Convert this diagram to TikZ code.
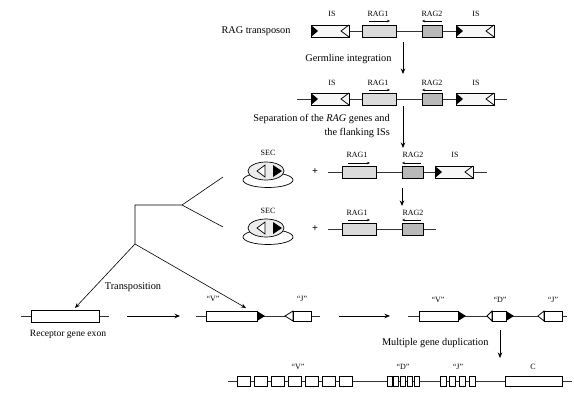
\documentclass[tikz,border=0pt]{standalone}
\usepackage{fontspec}
\setmainfont{Liberation Serif}
\usetikzlibrary{arrows.meta}

\tikzset{
  genebox/.style={draw=black, line width=0.75pt},
  dnaline/.style={draw=black!80, line width=0.6pt},
  lbl/.style={font=\fontsize{8}{9}\selectfont},
  txt/.style={font=\fontsize{10.3}{12}\selectfont},
  flow/.style={line width=0.8pt, -{Stealth[length=5.5pt,width=4.5pt]}},
  orient/.style={line width=0.6pt, -{Stealth[length=3pt,width=2.5pt]}}
}

% IS element: left x, centre y
\newcommand{\isElem}[2]{%
  \draw[genebox, fill=gray!6] (#1,#2-6) rectangle (#1+38,#2+6);
  \fill (#1,#2-6) -- (#1+7,#2) -- (#1,#2+6) -- cycle;
  \draw[genebox] (#1+38,#2-6) -- (#1+30,#2) -- (#1+38,#2+6);
}
% RAG gene box: x1, y, x2, fill
\newcommand{\ragBox}[4]{%
  \draw[genebox, fill=#4] (#1,#2-6) rectangle (#3,#2+6);
}
% SEC: centre x, centre y
\newcommand{\secRing}[2]{%
  \draw[line width=0.7pt, fill=white] (#1+2,#2+9) ellipse [x radius=25, y radius=7.5];
  \draw[line width=0.7pt, fill=gray!15] (#1,#2) ellipse [x radius=18, y radius=9];
  \draw[line width=0.7pt, fill=white] (#1-1,#2-6) -- (#1-9,#2) -- (#1-1,#2+6) -- cycle;
  \fill (#1+7,#2-6) -- (#1+16,#2) -- (#1+7,#2+6) -- cycle;
}
% "V"-like segment: box x1 to x2, black tip after it, y
\newcommand{\vSeg}[3]{%
  \draw[genebox, fill=white] (#1,#3-5) rectangle (#2,#3+5);
  \fill (#2,#3-5) -- (#2+8,#3) -- (#2,#3+5) -- cycle;
}
% "J"-like segment: open tip at x1, box x2 to x3, y
\newcommand{\jSeg}[4]{%
  \draw[genebox, fill=white] (#2,#4-5) -- (#1,#4) -- (#2,#4+5) -- cycle;
  \draw[genebox, fill=white] (#2,#4-5) rectangle (#3,#4+5);
}

\begin{document}
\begin{tikzpicture}[x=1pt, y=-1pt]
    \useasboundingbox (0,0) rectangle (574,394);

    % Top row: the transposon.
        \node[txt, anchor=east] (tlabel) at (294,31) {RAG transposon};
        \draw[dnaline] (311,31) -- (494,31);
        \isElem{311}{31}
        \ragBox{362}{31}{396}{gray!28}
        \ragBox{422}{31}{442}{gray!55}
        \isElem{456}{31}
        \node[lbl] (is1a) at (332,14) {IS};
        \node[lbl] (rag1a) at (378,14) {RAG1};
        \node[lbl] (rag2a) at (432,14) {RAG2};
        \node[lbl] (is2a) at (476,14) {IS};
        \draw[orient] (369,21) -- (390,21);
        \draw[orient] (442,21) -- (422,21);

    % Germline integration.
        \coordinate (g1) at (403,42);
        \coordinate (g2) at (403,74);
        \draw[flow] (g1) -- (g2);
        \node[txt, anchor=east] (germ) at (395,59) {Germline integration};

    % Second row: integrated.
        \draw[dnaline] (297,99) -- (507,99);
        \isElem{311}{99}
        \ragBox{362}{99}{396}{gray!28}
        \ragBox{422}{99}{442}{gray!55}
        \isElem{456}{99}
        \node[lbl] (is1b) at (332,83) {IS};
        \node[lbl] (rag1b) at (378,83) {RAG1};
        \node[lbl] (rag2b) at (432,83) {RAG2};
        \node[lbl] (is2b) at (476,83) {IS};
        \draw[orient] (369,90) -- (390,90);
        \draw[orient] (442,90) -- (422,90);

    % Separation step.
        \coordinate (s1) at (403,106);
        \coordinate (s2) at (403,148);
        \draw[flow] (s1) -- (s2);
        \node[txt, anchor=east, align=right, inner sep=0pt] (sep) at (390,126)
            {Separation of the \textit{RAG} genes and\\[2pt]the flanking ISs};

    % Third row.
        \secRing{266}{171}
        \node[lbl] (sec1) at (268,153) {SEC};
        \node[txt] (plus1) at (315,172) {\textbf{+}};
        \draw[dnaline] (328,172) -- (487,172);
        \ragBox{342}{172}{376}{gray!28}
        \ragBox{402}{172}{423}{gray!55}
        \isElem{435}{172}
        \node[lbl] (rag1c) at (357,155) {RAG1};
        \node[lbl] (rag2c) at (413,155) {RAG2};
        \node[lbl] (isc) at (455,155) {IS};
        \draw[orient] (348,163) -- (370,163);
        \draw[orient] (421,163) -- (402,163);
        \coordinate (l1) at (402,188);
        \coordinate (l2) at (402,206);
        \draw[flow] (l1) -- (l2);

    % Fourth row.
        \secRing{266}{228}
        \node[lbl] (sec2) at (268,211) {SEC};
        \node[txt] (plus2) at (315,229) {\textbf{+}};
        \draw[dnaline] (328,229) -- (436,229);
        \ragBox{342}{229}{376}{gray!28}
        \ragBox{402}{229}{423}{gray!55}
        \node[lbl] (rag1d) at (357,213) {RAG1};
        \node[lbl] (rag2d) at (413,213) {RAG2};
        \draw[orient] (348,220) -- (370,220);
        \draw[orient] (421,220) -- (402,220);

    % The branching tree.
        \coordinate (t0) at (135,244);
        \coordinate (t1) at (135,205);
        \coordinate (t2) at (182,205);
        \coordinate (t3) at (223,177);
        \coordinate (t4) at (223,227);
        \coordinate (ex) at (75,308);
        \coordinate (vx) at (246,308);
        \draw[line width=0.6pt] (t0) -- (t1) -- (t2) -- (t3);
        \draw[line width=0.6pt] (t2) -- (t4);
        \draw[line width=0.6pt, -{Stealth[length=5pt,width=4pt]}] (t0) -- (ex);
        \draw[line width=0.6pt, -{Stealth[length=5pt,width=4pt]}] (t0) -- (vx);
        \node[txt] (trans) at (133,287) {Transposition};

    % Fifth row.
        \draw[dnaline] (21,316) -- (109,316);
        \draw[genebox, fill=white] (31,310) rectangle (99,322);
        \node[txt, font=\fontsize{9.6}{11}\selectfont] (exon) at (68,334) {Receptor gene exon};
        \coordinate (a1) at (127,316);
        \coordinate (a2) at (180,316);
        \draw[flow] (a1) -- (a2);
        \draw[dnaline] (196,316) -- (320,316);
        \vSeg{206}{257}{316}
        \jSeg{285}{293}{311}{316}
        \node[lbl] (v1) at (213,299) {``V''};
        \node[lbl] (j1) at (302,299) {``J''};
        \coordinate (b1) at (339,316);
        \coordinate (b2) at (390,316);
        \draw[flow] (b1) -- (b2);
        \draw[dnaline] (408,316) -- (567,316);
        \vSeg{419}{458}{316}
        \jSeg{487}{492}{506}{316}
        \fill (506,311) -- (514,316) -- (506,321) -- cycle;
        \jSeg{538}{544}{562}{316}
        \node[lbl] (v2) at (438,300) {``V''};
        \node[lbl] (d2) at (500,300) {``D''};
        \node[lbl] (j2) at (553,300) {``J''};

    % Multiple gene duplication.
        \coordinate (m1) at (500,330);
        \coordinate (m2) at (500,358);
        \draw[flow] (m1) -- (m2);
        \node[txt, anchor=east] (mult) at (492,343) {Multiple gene duplication};

    % Bottom row: the clusters.
        \draw[dnaline] (228,381) -- (572,381);
        \foreach \i in {0,...,6}
            \draw[genebox, fill=white] (237+17*\i,376) rectangle ++(13,10);
        \foreach \i in {0,...,4}
            \draw[genebox, fill=white] (387+6.8*\i,376) rectangle ++(5,10);
        \foreach \i in {0,...,3}
            \draw[genebox, fill=white] (440+9.7*\i,376) rectangle ++(6,10);
        \draw[genebox, fill=white] (505,376) rectangle (562,386);
        \node[lbl] (v3) at (298,367) {``V''};
        \node[lbl] (d3) at (403,367) {``D''};
        \node[lbl] (j3) at (458,367) {``J''};
        \node[lbl] (c3) at (533,367) {C};
\end{tikzpicture}
\end{document}
